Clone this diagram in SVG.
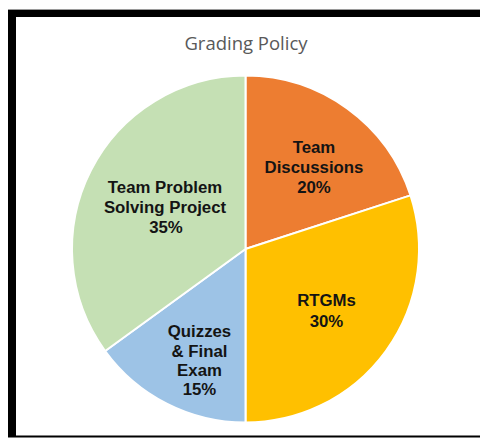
<svg xmlns="http://www.w3.org/2000/svg" width="480" height="440" viewBox="0 0 480 440">
  <style>
    .slice { stroke: #ffffff; stroke-width: 2; stroke-linejoin: round; }
    .lbl { font-family: "Liberation Sans", Arial, sans-serif; font-weight: bold; font-size: 16.8px; fill: #141414; text-anchor: middle; }
    .title { font-family: "Open Sans", "Liberation Sans", sans-serif; font-size: 18.5px; fill: #595959; text-anchor: middle; }
  </style>
  <rect x="0" y="0" width="480" height="440" fill="#ffffff"/>
  <g id="frame">
    <rect x="8" y="9" width="472" height="1" fill="#9a9a9a"/>
    <rect x="8" y="10" width="472" height="7" fill="#000000"/>
    <rect x="8" y="10" width="8" height="427" fill="#000000"/>
    <rect x="8" y="435.5" width="472" height="2" fill="#000000"/>
  </g>
  <text class="title" x="246" y="50">Grading Policy</text>
  <g id="team-discussions">
    <path class="slice" fill="#ED7D31" d="M245.5,249 L245.5,75.5 A173.5,173.5 0 0 1 410.51,195.38 Z"/>
    <text class="lbl" x="314" y="153">Team</text>
    <text class="lbl" x="314" y="173">Discussions</text>
    <text class="lbl" x="314" y="193">20%</text>
  </g>
  <g id="rtgms">
    <path class="slice" fill="#FFC000" d="M245.5,249 L410.51,195.38 A173.5,173.5 0 0 1 245.5,422.5 Z"/>
    <text class="lbl" x="326.5" y="306">RTGMs</text>
    <text class="lbl" x="326.5" y="327">30%</text>
  </g>
  <g id="quizzes">
    <path class="slice" fill="#9DC3E6" d="M245.5,249 L245.5,422.5 A173.5,173.5 0 0 1 105.14,350.98 Z"/>
    <text class="lbl" x="199.5" y="337">Quizzes</text>
    <text class="lbl" x="199.5" y="357">&amp; Final</text>
    <text class="lbl" x="199.5" y="376">Exam</text>
    <text class="lbl" x="199.5" y="394.5">15%</text>
  </g>
  <g id="team-problem">
    <path class="slice" fill="#C5E0B4" d="M245.5,249 L105.14,350.98 A173.5,173.5 0 0 1 245.5,75.5 Z"/>
    <text class="lbl" x="165" y="193">Team Problem</text>
    <text class="lbl" x="165" y="213">Solving Project</text>
    <text class="lbl" x="166" y="233">35%</text>
  </g>
</svg>
